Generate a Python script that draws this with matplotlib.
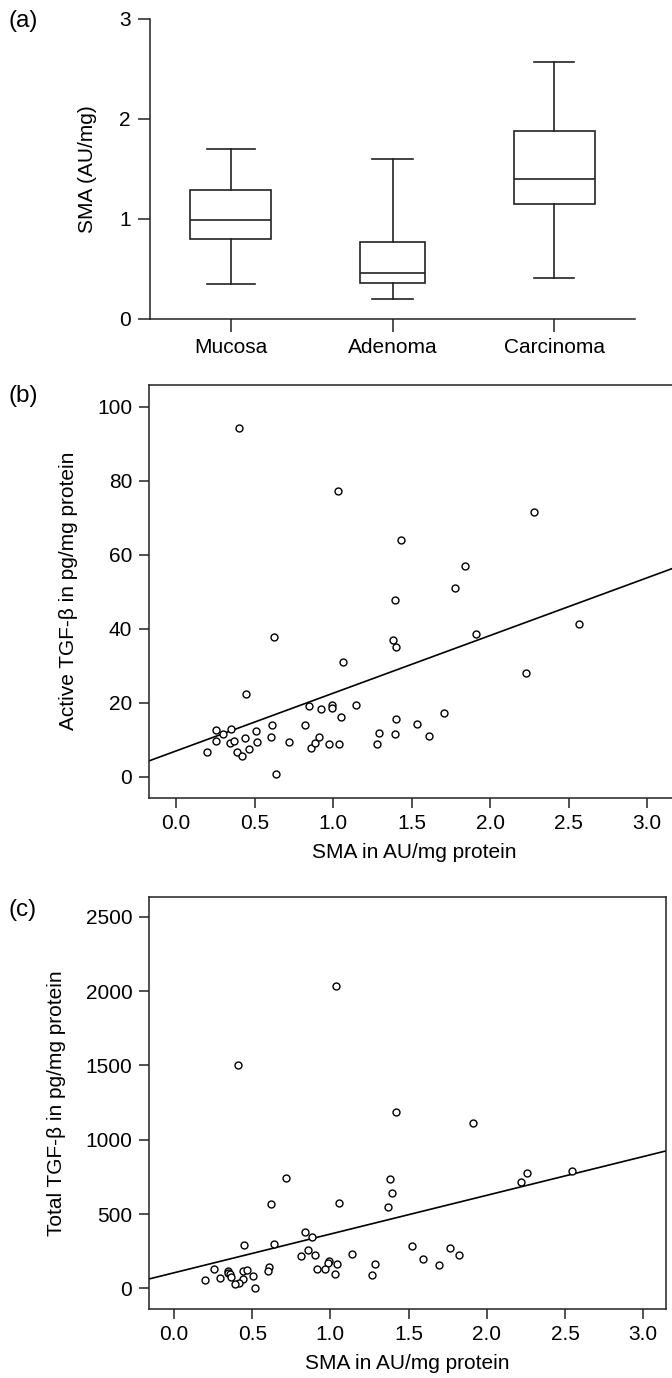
import numpy as np
import matplotlib
matplotlib.use("Agg")
import matplotlib.pyplot as plt

plt.rcParams['font.family'] = ['Liberation Sans', 'DejaVu Sans']

# (a) box plot summaries
groups = ["Mucosa", "Adenoma", "Carcinoma"]
whislo = [0.35, 0.20, 0.41]
q1 = [0.80, 0.36, 1.15]
med = [0.99, 0.46, 1.40]
q3 = [1.29, 0.77, 1.88]
whishi = [1.70, 1.60, 2.57]

# (b) active TGF-beta vs SMA
active_x = [0.404, 1.034, 2.283, 1.432, 1.840, 1.779, 1.392, 1.379, 1.404, 1.908,
            2.564, 2.230, 1.705, 0.624, 1.064, 0.447, 0.844, 0.996, 0.996, 0.923,
            1.149, 1.049, 0.257, 0.349, 0.298, 0.257, 0.347, 0.368, 0.438, 0.509,
            0.519, 0.611, 0.606, 0.387, 0.419, 0.468, 0.198, 0.640, 0.719, 0.819,
            0.860, 0.887, 0.911, 0.974, 1.040, 1.278, 1.296, 1.402, 1.396, 1.538,
            1.610]
active_y = [94.3, 77.3, 71.6, 64.0, 56.9, 51.0, 47.8, 36.9, 35.1, 38.5,
            41.2, 27.9, 17.3, 37.7, 31.0, 22.4, 19.1, 19.5, 18.6, 18.4,
            19.4, 16.0, 12.6, 12.8, 11.5, 9.6, 9.1, 9.6, 10.5, 12.4,
            9.5, 14.1, 10.8, 6.7, 5.7, 7.4, 6.6, 0.8, 9.4, 13.9,
            7.7, 9.1, 10.6, 8.7, 8.8, 8.7, 11.7, 15.5, 11.6, 14.2,
            11.0]
active_fit = (6.95, 15.6)   # intercept, slope

# (c) total TGF-beta vs SMA
total_x = [0.411, 1.037, 1.419, 1.911, 1.381, 1.396, 1.370, 2.217, 2.258, 2.547,
           1.524, 1.592, 1.693, 1.765, 1.825, 0.715, 0.620, 1.055, 0.840, 0.880,
           0.448, 0.637, 0.855, 0.812, 0.902, 1.136, 0.989, 0.985, 1.040, 0.915,
           0.968, 1.032, 1.284, 1.266, 0.258, 0.345, 0.345, 0.358, 0.366, 0.438,
           0.465, 0.605, 0.603, 0.507, 0.438, 0.418, 0.388, 0.296, 0.199, 0.516]
total_y = [1500, 2036, 1184, 1115, 733, 639, 549, 717, 774, 792,
           285, 195, 159, 269, 224, 740, 567, 572, 379, 347,
           291, 300, 256, 217, 222, 229, 186, 168, 165, 132,
           128, 96, 165, 92, 132, 114, 101, 94, 74, 114,
           125, 141, 114, 81, 61, 34, 27, 67, 56, 4]
total_fit = (104.7, 260.6)

W, H = 672, 1378
fig = plt.figure(figsize=(W / 100, H / 100), dpi=100)
fs = 15
lc = "#222222"

def frac(left, top, right, bottom):
    return [left / W, 1 - bottom / H, (right - left) / W, (bottom - top) / H]

# ---- panel (a)
ax = fig.add_axes(frac(150, 19, 635, 318.5))
stats = []
for i, g in enumerate(groups):
    stats.append(dict(label=g, whislo=whislo[i], q1=q1[i], med=med[i],
                      q3=q3[i], whishi=whishi[i], fliers=[]))
lp = dict(color=lc, linewidth=1.2)
ax.bxp(stats, positions=[0, 1, 2], widths=[0.5, 0.4, 0.5], capwidths=[0.3, 0.25, 0.25],
       patch_artist=True, boxprops=dict(facecolor="white", edgecolor=lc, linewidth=1.2),
       medianprops=lp, whiskerprops=lp, capprops=lp)
ax.set_xlim(-0.5, 2.5)
ax.set_ylim(0, 3)
ax.set_yticks([0, 1, 2, 3])
ax.set_ylabel("SMA (AU/mg)", fontsize=fs, labelpad=16)
for s in ["top", "right"]:
    ax.spines[s].set_visible(False)
for s in ["left", "bottom"]:
    ax.spines[s].set_linewidth(1.1)
    ax.spines[s].set_color(lc)
ax.tick_params(labelsize=fs, length=9, width=1.1, color=lc, pad=5)
fig.text(8 / W, 1 - 21 / H, "(a)", fontsize=17.5, va="center", ha="left")

# ---- scatter panels
def scatter_panel(rect, xs, ys, fit, xlim, ylim, yticks, ylabel, tag, tag_y, right_spine):
    ax = fig.add_axes(rect)
    ax.plot(xs, ys, "o", ms=5, mfc="white", mec="black", mew=1.0, ls="none", zorder=3)
    ax.axline((0, fit[0]), slope=fit[1], color="black", lw=1.2, zorder=2)
    ax.set_xlim(*xlim)
    ax.set_ylim(*ylim)
    ax.set_xticks(np.arange(0, 3.01, 0.5))
    ax.set_xticklabels([f"{v:.1f}" for v in np.arange(0, 3.01, 0.5)])
    ax.set_yticks(yticks)
    ax.set_xlabel("SMA in AU/mg protein", fontsize=fs, labelpad=7)
    ax.set_ylabel(ylabel, fontsize=fs, labelpad=14)
    for s in ax.spines.values():
        s.set_linewidth(1.1)
        s.set_color(lc)
    ax.spines["right"].set_visible(right_spine)
    ax.tick_params(labelsize=fs, length=7, width=1.1, color=lc, pad=5)
    fig.text(8 / W, 1 - tag_y / H, tag, fontsize=17.5, va="center", ha="left")
    return ax

scatter_panel(frac(149, 384.5, 680, 797.7), active_x, active_y, active_fit,
              (-0.172, 3.21), (-5.68, 106.0), [0, 20, 40, 60, 80, 100],
              "Active TGF-\u03b2 in pg/mg protein", "(b)", 396, False)

scatter_panel(frac(149, 896.7, 666, 1308.7), total_x, total_y, total_fit,
              (-0.16, 3.146), (-137, 2635), [0, 500, 1000, 1500, 2000, 2500],
              "Total TGF-\u03b2 in pg/mg protein", "(c)", 910, True)

fig.savefig("out.png", dpi=100)
